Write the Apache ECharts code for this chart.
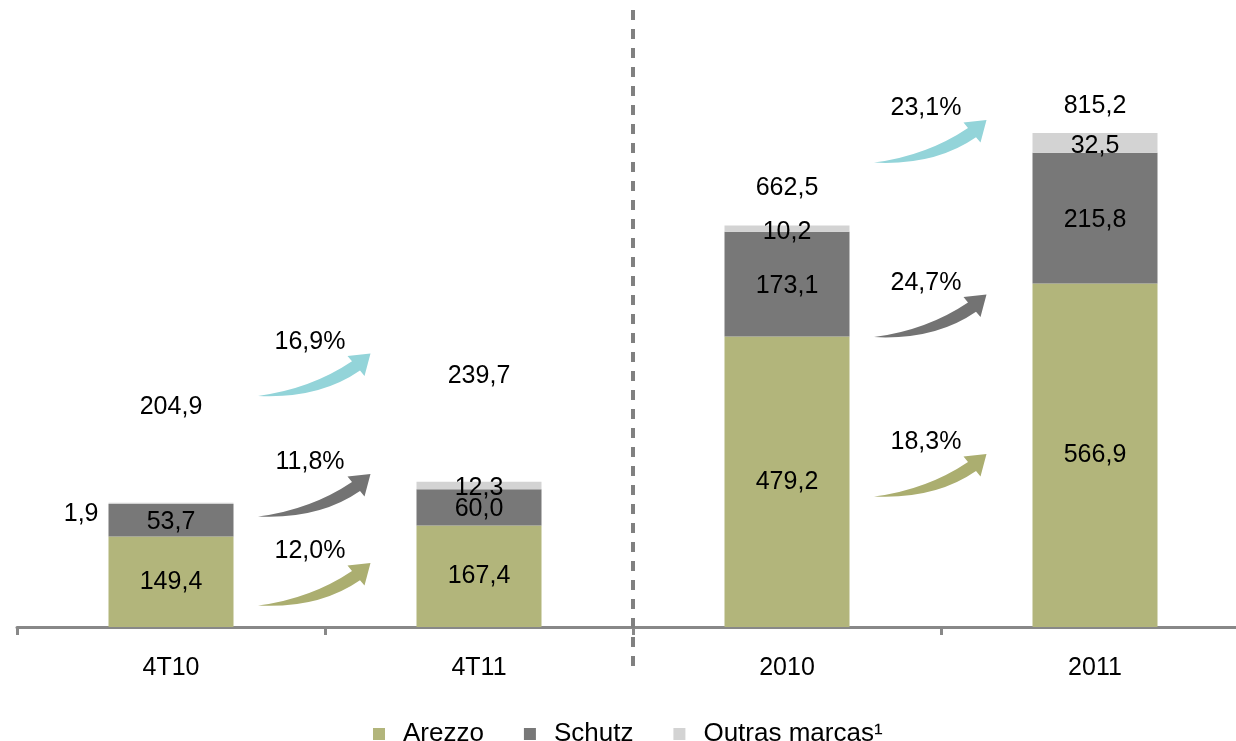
<!DOCTYPE html>
<html>
<head>
<meta charset="utf-8">
<script src="https://cdn.jsdelivr.net/npm/echarts@6/dist/echarts.min.js"></script>
<style>
  html, body { margin: 0; padding: 0; background: #fff; }
  #chart { width: 1236px; height: 741px; }
</style>
</head>
<body>
<div id="chart"></div>
<script>
// dados
const categories = ["4T10", "4T11", "2010", "2011"];
const arezzo = [149.4, 167.4, 479.2, 566.9];
const schutz = [53.7, 60.0, 173.1, 215.8];
const outras = [1.9, 12.3, 10.2, 32.5];
const totals = [204.9, 239.7, 662.5, 815.2];

// setas de crescimento: categoria de origem, série, variação (%)
const growthFrom = [0, 0, 0, 2, 2, 2];
const growthSeries = [2, 1, 0, 2, 1, 0];
const growthPct = [16.9, 11.8, 12.0, 23.1, 24.7, 18.3];

// layout (altura das setas em unidades do eixo, deslocamento dos totais em px)
const arrowLevel = [416, 217, 70, 801, 513, 250];
const totalOffset = [-96, -106, -37, -27];

const barColors = ["#b2b57b", "#787878", "#d3d3d3"];
const arrowColors = ["#abae70", "#737373", "#93d4d9"];
const font = "Liberation Sans, Arial, sans-serif";
const fs = 25;

const fmt = (v) => v.toFixed(1).replace(".", ",");

const chart = echarts.init(document.getElementById("chart"));

// seta curva em coordenadas locais (centro em 0,0)
const arrowPath =
  "M-57,21 Q-4,14 37,-13.6 L32.5,-19 L55.5,-21.5 L49.5,1 L45,-4.4 Q4,24 -57,21 Z";

chart.setOption({
  animation: false,
  grid: { left: 17, right: -13, top: 21, height: 606, outerBoundsMode: "none" },
  legend: {
    data: ["Arezzo", "Schutz", "Outras marcas¹"],
    left: 368,
    top: 716,
    icon: "rect",
    itemWidth: 12,
    itemHeight: 12,
    itemGap: 40,
    textStyle: { fontFamily: font, fontSize: 26, color: "#000", padding: [0, 0, 0, 13] },
  },
  xAxis: {
    type: "category",
    data: categories,
    axisLine: { lineStyle: { color: "#888", width: 3 } },
    axisTick: { show: true, length: 8, lineStyle: { color: "#888", width: 3 } },
    axisLabel: { fontFamily: font, fontSize: fs, color: "#000", margin: 29 },
  },
  yAxis: { type: "value", min: 0, max: 1000, show: false },
  series: [
    {
      name: "Arezzo",
      type: "bar",
      stack: "t",
      barWidth: 125,
      data: arezzo,
      itemStyle: { color: barColors[0] },
      label: {
        show: true,
        position: "inside",
        formatter: (p) => fmt(p.value),
        fontFamily: font,
        fontSize: fs,
        color: "#000",
      },
    },
    {
      name: "Schutz",
      type: "bar",
      stack: "t",
      data: schutz,
      itemStyle: { color: barColors[1] },
      label: {
        show: true,
        position: "inside",
        offset: [0, 2],
        formatter: (p) => fmt(p.value),
        fontFamily: font,
        fontSize: fs,
        color: "#000",
      },
    },
    {
      name: "Outras marcas¹",
      type: "bar",
      stack: "t",
      data: outras.map((v, i) =>
        i === 0
          ? { value: v, label: { position: "left", distance: 10, offset: [0, 11] } }
          : v
      ),
      itemStyle: { color: barColors[2] },
      label: {
        show: true,
        position: "inside",
        offset: [0, 3],
        formatter: (p) => fmt(p.value),
        fontFamily: font,
        fontSize: fs,
        color: "#000",
      },
    },
    {
      // totais
      type: "custom",
      data: totals.map((v, i) => [i, v, totalOffset[i]]),
      renderItem: (params, api) => {
        const p = api.coord([api.value(0), api.value(1)]);
        return {
          type: "text",
          x: p[0],
          y: p[1] + api.value(2),
          style: {
            text: fmt(api.value(1)),
            fontFamily: font,
            fontSize: fs,
            fill: "#000",
            align: "center",
            verticalAlign: "middle",
          },
        };
      },
      z: 5,
    },
    {
      // setas de crescimento
      type: "custom",
      data: growthPct.map((v, i) => [growthFrom[i], arrowLevel[i], v, growthSeries[i]]),
      renderItem: (params, api) => {
        const i0 = api.value(0);
        const p0 = api.coord([i0, api.value(1)]);
        const p1 = api.coord([i0 + 1, api.value(1)]);
        const cx = (p0[0] + p1[0]) / 2 - 10;
        const cy = p0[1];
        return {
          type: "group",
          children: [
            {
              type: "path",
              x: cx,
              y: cy,
              shape: { pathData: arrowPath },
              style: { fill: arrowColors[api.value(3)] },
            },
            {
              type: "text",
              x: cx - 5,
              y: cy - 33,
              style: {
                text: fmt(api.value(2)) + "%",
                fontFamily: font,
                fontSize: fs,
                fill: "#000",
                align: "center",
                verticalAlign: "middle",
              },
            },
          ],
        };
      },
      z: 5,
    },
  ],
});

// linha tracejada entre períodos trimestrais e anuais
const a = chart.convertToPixel({ gridIndex: 0 }, [1, 0]);
const b = chart.convertToPixel({ gridIndex: 0 }, [2, 0]);
const xMid = (a[0] + b[0]) / 2;
chart.setOption({
  graphic: [
    {
      type: "line",
      shape: { x1: xMid, y1: 10, x2: xMid, y2: 672 },
      style: { stroke: "#808080", lineWidth: 4, lineDash: [10, 9] },
      z: 10,
    },
  ],
});
</script>
</body>
</html>
